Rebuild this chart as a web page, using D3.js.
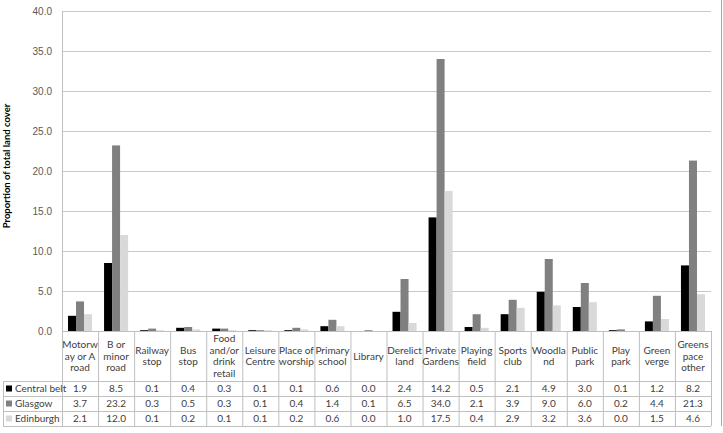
<!DOCTYPE html>
<html>
<head>
<meta charset="utf-8">
<script src="https://cdn.jsdelivr.net/npm/d3@7"></script>
<style>
  body { margin: 0; background: #fff; }
  svg { font-family: Lato, "Open Sans", "Liberation Sans", sans-serif; }
</style>
</head>
<body>
<div id="container"></div>
<script>
const categories = [
  ["Motorw", "ay or A", "road"], ["B or", "minor", "road"], ["Railway", "stop"],
  ["Bus", "stop"], ["Food", "and/or", "drink", "retail"], ["Leisure", "Centre"],
  ["Place of", "worship"], ["Primary", "school"], ["Library"], ["Derelict", "land"],
  ["Private", "Gardens"], ["Playing", "field"], ["Sports", "club"], ["Woodla", "nd"],
  ["Public", "park"], ["Play", "park"], ["Green", "verge"], ["Greens", "pace", "other"]
];
const seriesNames = ["Central belt", "Glasgow", "Edinburgh"];
const centralBelt = [1.9, 8.5, 0.1, 0.4, 0.3, 0.1, 0.1, 0.6, 0.0, 2.4, 14.2, 0.5, 2.1, 4.9, 3.0, 0.1, 1.2, 8.2];
const glasgow = [3.7, 23.2, 0.3, 0.5, 0.3, 0.1, 0.4, 1.4, 0.1, 6.5, 34.0, 2.1, 3.9, 9.0, 6.0, 0.2, 4.4, 21.3];
const edinburgh = [2.1, 12.0, 0.1, 0.2, 0.1, 0.1, 0.2, 0.6, 0.0, 1.0, 17.5, 0.4, 2.9, 3.2, 3.6, 0.0, 1.5, 4.6];
const yTicks = [0, 5, 10, 15, 20, 25, 30, 35, 40];

const series = [centralBelt, glasgow, edinburgh];
const colors = ["#000000", "#808080", "#d9d9d9"];

const w = 723, h = 433;
const pLeft = 62, pRight = 711, pTop = 11, base = 331;
const headerBottom = 381, rowH = 15;
const lineColor = "#bfbfbf";
const textColor = "#404040";
const fs = "10px";

const svg = d3.select("#container").append("svg")
  .attr("width", w).attr("height", h);

const idx = d3.range(categories.length);
const x = d3.scaleBand().domain(idx).range([pLeft, pRight]);
const xInner = d3.scaleBand().domain(d3.range(series.length))
  .range([0, x.bandwidth()]).paddingOuter(0.75).paddingInner(0);
const y = d3.scaleLinear().domain([0, 40]).range([base, pTop]);

// gridlines
svg.append("g").selectAll("line").data(yTicks.filter(d => d > 0)).join("line")
  .attr("x1", pLeft).attr("x2", pRight)
  .attr("y1", d => y(d) + 0.5).attr("y2", d => y(d) + 0.5)
  .attr("stroke", "#c8c8c8").attr("stroke-width", 1);

// y axis
const yAxis = d3.axisLeft(y).tickValues(yTicks).tickFormat(d3.format(".1f")).tickSize(0).tickPadding(10);
const ga = svg.append("g").attr("transform", `translate(${pLeft},0)`).call(yAxis);
ga.select(".domain").remove();
ga.selectAll("text").attr("fill", "#595959").style("font-size", fs);
svg.append("line").attr("x1", pLeft + 0.5).attr("x2", pLeft + 0.5)
  .attr("y1", pTop).attr("y2", base).attr("stroke", lineColor);

// bars
series.forEach((s, si) => {
  svg.append("g").selectAll("rect").data(s).join("rect")
    .attr("x", (d, i) => x(i) + xInner(si))
    .attr("width", xInner.bandwidth())
    .attr("y", d => y(d))
    .attr("height", d => base - y(d))
    .attr("fill", colors[si]);
});

// data table
const tableBottom = headerBottom + rowH * series.length;
const tbl = svg.append("g").attr("stroke", lineColor).attr("stroke-width", 1);
tbl.append("line").attr("x1", pLeft).attr("x2", pRight).attr("y1", base + 0.5).attr("y2", base + 0.5);
[0, 1, 2, 3].forEach(r => {
  const yy = headerBottom + r * rowH + 0.5;
  tbl.append("line").attr("x1", 3).attr("x2", pRight).attr("y1", yy).attr("y2", yy);
});
idx.concat([categories.length]).forEach(i => {
  const xx = (i < categories.length ? x(i) : pRight) + 0.5;
  tbl.append("line").attr("x1", xx).attr("x2", xx).attr("y1", base).attr("y2", tableBottom);
});
tbl.append("line").attr("x1", 3.5).attr("x2", 3.5).attr("y1", headerBottom).attr("y2", tableBottom);

// category header labels
const lh = 11.5;
svg.append("g").selectAll("text").data(categories).join("text")
  .attr("text-anchor", "middle")
  .attr("fill", textColor).style("font-size", fs)
  .each(function (d, i) {
    const cy = (base + headerBottom) / 2 - (d.length - 1) * lh / 2;
    d3.select(this).selectAll("tspan").data(d).join("tspan")
      .attr("x", x(i) + x.bandwidth() / 2)
      .attr("y", (t, k) => cy + k * lh + 3.5)
      .text(t => t);
  });

// rows
series.forEach((s, si) => {
  const ry = headerBottom + si * rowH + rowH / 2;
  svg.append("rect").attr("x", 6).attr("y", ry - 3).attr("width", 6).attr("height", 6)
    .attr("fill", colors[si]);
  svg.append("text").attr("x", 15).attr("y", ry + 3.5)
    .attr("fill", textColor).style("font-size", fs).text(seriesNames[si]);
  svg.append("g").selectAll("text").data(s).join("text")
    .attr("x", (d, i) => x(i) + x.bandwidth() / 2)
    .attr("y", ry + 3.5)
    .attr("text-anchor", "middle")
    .attr("fill", textColor).style("font-size", fs)
    .text(d => d3.format(".1f")(d));
});

// y title
svg.append("text")
  .attr("transform", `translate(10,166) rotate(-90)`)
  .attr("text-anchor", "middle")
  .style("font-size", "9.5px").style("font-weight", "bold").attr("fill", "#000")
  .text("Proportion of total land cover");

// outer right border
svg.append("line").attr("x1", 721.5).attr("x2", 721.5).attr("y1", 0).attr("y2", 426)
  .attr("stroke", "#a6a6a6");
</script>
</body>
</html>
